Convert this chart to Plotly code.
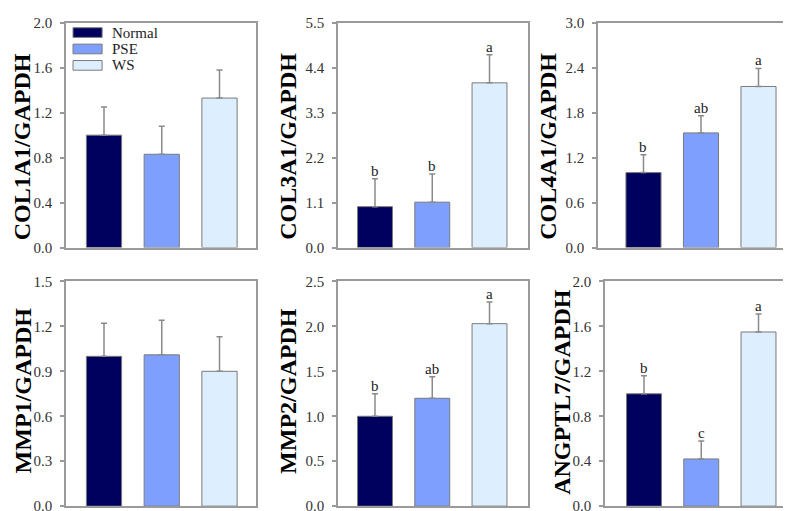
import plotly.graph_objects as go

# groups and colours
groups = ['Normal', 'PSE', 'WS']
group_colors = ['#00005E', '#7F9FFF', '#DDEEFF']

# gene panels (row by row)
genes = ['COL1A1', 'COL3A1', 'COL4A1', 'MMP1', 'MMP2', 'ANGPTL7']

col1a1_mean = [1.00, 0.83, 1.33]
col1a1_sd = [0.25, 0.25, 0.25]
col1a1_letters = ['', '', '']

col3a1_mean = [1.00, 1.11, 4.03]
col3a1_sd = [0.68, 0.69, 0.69]
col3a1_letters = ['b', 'b', 'a']

col4a1_mean = [1.00, 1.53, 2.15]
col4a1_sd = [0.24, 0.23, 0.24]
col4a1_letters = ['b', 'ab', 'a']

mmp1_mean = [1.00, 1.01, 0.90]
mmp1_sd = [0.22, 0.23, 0.23]
mmp1_letters = ['', '', '']

mmp2_mean = [1.00, 1.20, 2.03]
mmp2_sd = [0.25, 0.24, 0.24]
mmp2_letters = ['b', 'ab', 'a']

angptl7_mean = [1.00, 0.42, 1.55]
angptl7_sd = [0.16, 0.16, 0.16]
angptl7_letters = ['b', 'c', 'a']

y_max = [2.0, 5.5, 3.0, 1.5, 2.5, 2.0]
y_step = [0.4, 1.1, 0.6, 0.3, 0.5, 0.4]

means = [col1a1_mean, col3a1_mean, col4a1_mean, mmp1_mean, mmp2_mean, angptl7_mean]
sds = [col1a1_sd, col3a1_sd, col4a1_sd, mmp1_sd, mmp2_sd, angptl7_sd]
letters = [col1a1_letters, col3a1_letters, col4a1_letters,
           mmp1_letters, mmp2_letters, angptl7_letters]

W, H = 791, 511
SERIF = 'Liberation Serif, Times New Roman, serif'
GRID = '#9a9a9a'

# pixel boxes of each panel: (left, right, top, bottom), x range, title centre
panels = [
    (58, 248, 7, 239, [0.342, 3.632], 13.5, 135),
    (330, 520, 7, 239, [0.354, 3.672], 280, 135),
    (590, 780, 7, 239, [0.209, 3.513], 540, 135),
    (58, 248, 274, 506, [0.342, 3.632], 14.5, 387),
    (330, 520, 274, 506, [0.354, 3.672], 280, 387),
    (597, 782, 274, 506, [0.319, 3.55], 554, 388),
]

x_pos = [1, 2, 3]

fig = go.Figure()
annotations = []
shapes = []

for i, gene in enumerate(genes):
    left, right, top, bottom, xr, tx, ty = panels[i]
    n = '' if i == 0 else str(i + 1)
    xa, ya = 'x' + n, 'y' + n

    fig.add_trace(go.Bar(
        x=x_pos, y=means[i],
        marker=dict(color=group_colors, line=dict(color='#7a7a7a', width=1)),
        width=0.61,
        error_y=dict(type='data', array=sds[i], arrayminus=[0, 0, 0],
                     symmetric=False, color='#8a8a8a', thickness=1.5, width=3),
        xaxis=xa, yaxis=ya, showlegend=False, hoverinfo='skip',
    ))

    fig.update_layout(**{
        'xaxis' + n: dict(domain=[left / W, right / W], range=xr, anchor=ya,
                          showticklabels=False, ticks='', showgrid=False, zeroline=False,
                          showline=True, linecolor=GRID, linewidth=1.5, mirror=True,
                          fixedrange=True),
        'yaxis' + n: dict(domain=[1 - bottom / H, 1 - top / H], range=[0, y_max[i]],
                          anchor=xa, dtick=y_step[i], tick0=0, tickformat='.1f',
                          ticks='outside', ticklen=4, tickcolor=GRID, tickwidth=1.5,
                          ticklabelstandoff=5,
                          showgrid=False, zeroline=False,
                          showline=True, linecolor=GRID, linewidth=1.5, mirror=True,
                          tickfont=dict(family=SERIF, size=15, color='#333333')),
    })

    # y-axis title
    annotations.append(dict(
        text='<b>%s/GAPDH</b>' % gene, textangle=-90,
        xref='paper', yref='paper', x=tx / W, y=1 - ty / H,
        xanchor='center', yanchor='middle', showarrow=False,
        font=dict(family=SERIF, size=24, color='#000000'),
    ))

    # significance letters
    for k in range(3):
        if letters[i][k]:
            annotations.append(dict(
                text=letters[i][k], xref=xa, yref=ya,
                x=x_pos[k], y=means[i][k] + sds[i][k],
                xanchor='center', yanchor='bottom', yshift=-2, showarrow=False,
                font=dict(family=SERIF, size=15, color='#222222'),
            ))

# legend drawn inside the first panel
lx0, lx1 = 0.037, 0.19
ly = [0.978, 0.905, 0.832]
for k, g in enumerate(groups):
    shapes.append(dict(type='rect', xref='x domain', yref='y domain',
                       x0=lx0, x1=lx1, y0=ly[k] - 0.043, y1=ly[k],
                       fillcolor=group_colors[k], line=dict(color='#7a7a7a', width=1)))
    annotations.append(dict(text=g, xref='x domain', yref='y domain',
                            x=0.232, y=ly[k] - 0.0215, xanchor='left', yanchor='middle',
                            showarrow=False,
                            font=dict(family=SERIF, size=15, color='#222222')))

fig.update_layout(
    width=W, height=H,
    margin=dict(l=0, r=0, t=0, b=0),
    paper_bgcolor='white', plot_bgcolor='white',
    annotations=annotations, shapes=shapes,
    bargap=0.3,
)

fig.write_html('out.html')
